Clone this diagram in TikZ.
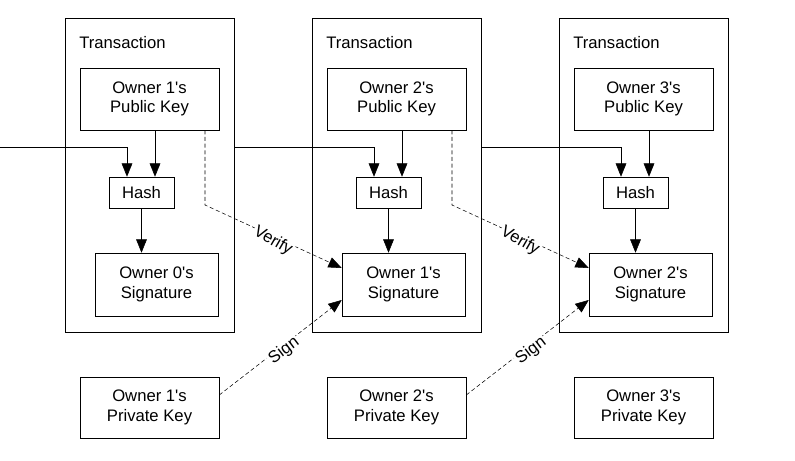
\documentclass[tikz,border=0pt]{standalone}
\usepackage{fontspec}
\setmainfont{Liberation Sans}
\usetikzlibrary{arrows.meta}
\begin{document}
\begin{tikzpicture}[x=0.75pt,y=-0.75pt,
  box/.style={draw,thin,inner sep=0pt,align=center,font=\fontsize{12.5}{14.5}\selectfont},
  arr/.style={-{Triangle[length=10pt,width=8pt]},thin},
  dsh/.style={-{Triangle[length=10pt,width=8pt]},densely dashed,thin},
  lbl/.style={font=\fontsize{12.5}{14.5}\selectfont,fill=white,inner sep=1pt}]
\useasboundingbox (0,0) rectangle (795,460);
\foreach \i/\dx in {1/0,2/247,3/494}{
  \node[box,minimum width=169*0.75pt,minimum height=314*0.75pt] (tx\i) at (149.5+\dx,175) {};
  \node[anchor=north west,font=\fontsize{12.5}{14.5}\selectfont,inner sep=0pt] (tt\i) at (79+\dx,36) {Transaction};
}
\foreach \i/\dx/\j in {1/0/0,2/247/1,3/494/2}{
  \node[box,minimum width=139*0.75pt,minimum height=62*0.75pt] (pk\i) at (149.5+\dx,99) {Owner \i\textquotesingle s\\Public Key};
  \node[box,minimum width=65*0.75pt,minimum height=31*0.75pt] (h\i) at (141.5+\dx,192.5) {Hash};
  \node[box,minimum width=123*0.75pt,minimum height=63*0.75pt] (sg\i) at (156.5+\dx,284.5) {Owner \j\textquotesingle s\\Signature};
  \node[box,minimum width=139*0.75pt,minimum height=61*0.75pt] (pv\i) at (149.5+\dx,407.5) {Owner \i\textquotesingle s\\Private Key};
  \draw[arr] (pk\i.south -| 155+\dx,0) -- (h\i.north -| 155+\dx,0);
  \draw[arr] (h\i) -- (sg\i.north -| h\i);
}
\coordinate (in) at (0,147);
\draw[arr] (in) -| (h1.north -| 127,0);
\draw[arr] (tx1.east |- 0,147) -| (h2.north -| 374,0);
\draw[arr] (tx2.east |- 0,147) -| (h3.north -| 621,0);
\foreach \a/\b/\dx in {1/2/0,2/3/247}{
  \coordinate (v\a) at (205+\dx,205);
  \draw[dsh] (pk\a.south -| 205+\dx,0) -- (v\a) -- (sg\b.west |- 0,268);
  \node[lbl,rotate=-30] at (273+\dx,241) {Verify};
  \draw[dsh] (pv\a.east |- 0,395) -- (sg\b.west |- 0,300);
  \node[lbl,rotate=37] at (284+\dx,351) {Sign};
}
\end{tikzpicture}
\end{document}
